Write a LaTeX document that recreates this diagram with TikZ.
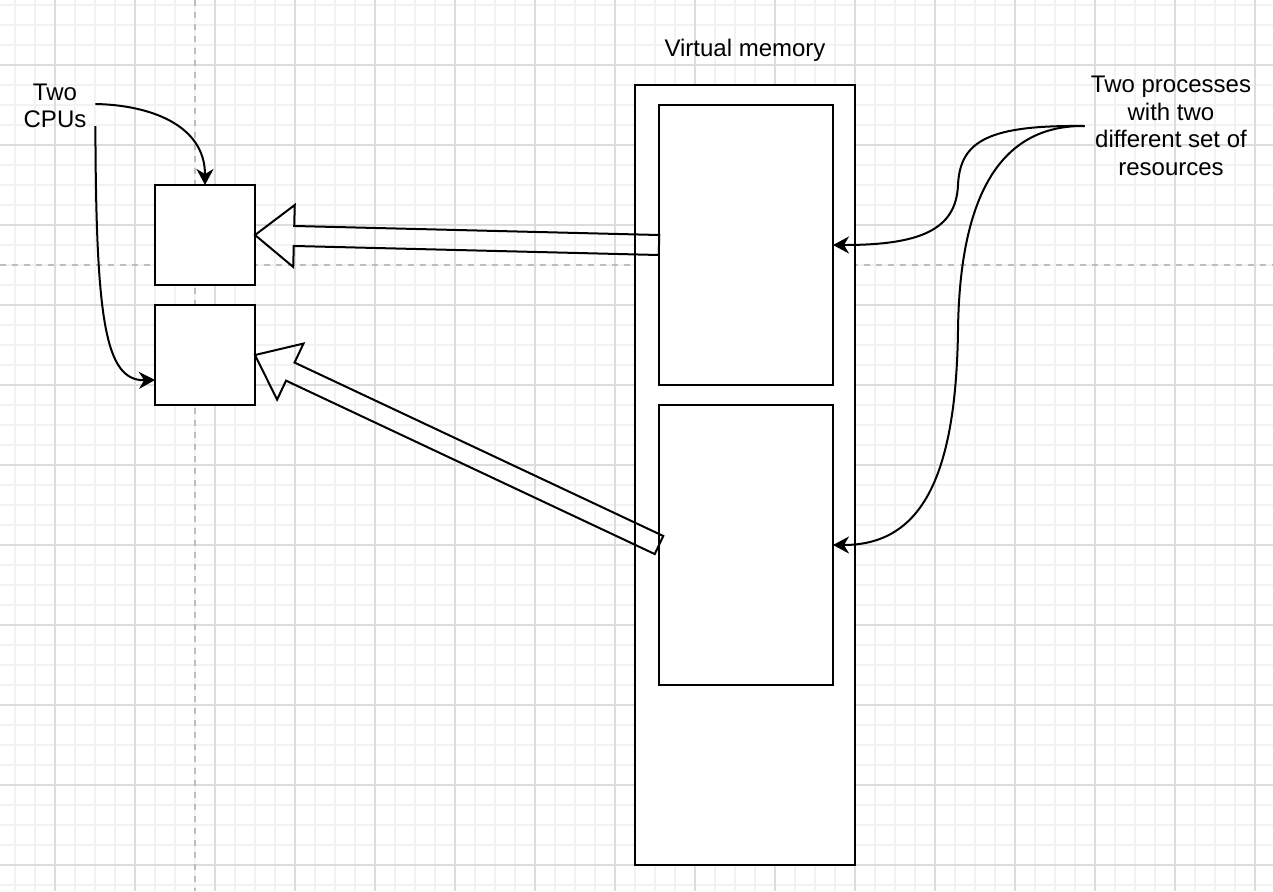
\documentclass[tikz,border=0pt]{standalone}
\usepackage{fontspec}
\setmainfont{Liberation Sans}
\usepackage{tikz}
\usetikzlibrary{positioning,calc,arrows.meta}
\definecolor{gridminor}{HTML}{F2F2F2}
\definecolor{gridmajor}{HTML}{DCDCDC}
\definecolor{pageline}{HTML}{BDBDBD}
\newcommand{\blockarrow}[2]{%
  \path ($(#2)!19.5pt!(#1)$) coordinate (ah);
  \draw[hollow] (#2) -- ($(ah)!15.5pt!90:(#1)$) -- ($(ah)!5pt!90:(#1)$)
    -- ($(#1)!5pt!-90:(ah)$) -- ($(#1)!5pt!90:(ah)$)
    -- ($(ah)!5pt!-90:(#1)$) -- ($(ah)!15.5pt!-90:(#1)$) -- cycle;}

\begin{document}
\begin{tikzpicture}[x=0.5pt, y=-0.5pt,
      box/.style={rectangle, draw, fill=white, line width=1.2pt, inner sep=0pt, outer sep=0pt},
      lbl/.style={font=\fontsize{12}{13.8}\selectfont, align=center, inner sep=0pt},
      link/.style={-{Stealth[length=8pt, width=8.5pt, inset=2.5pt]}, line width=1pt},
      hollow/.style={draw, line width=1pt, line join=miter}]
    \useasboundingbox (0,0) rectangle (1273,891);
    \fill[white] (0,0) rectangle (1273,891);
    \foreach \x in {15,35,...,1273} \draw[gridminor, line width=0.8pt] (\x,0) -- (\x,891);
    \foreach \y in {5,25,...,891} \draw[gridminor, line width=0.8pt] (0,\y) -- (1273,\y);
    \foreach \x in {55,135,...,1273} \draw[gridmajor, line width=0.6pt] (\x,0) -- (\x,891);
    \foreach \y in {65,145,...,891} \draw[gridmajor, line width=0.6pt] (0,\y) -- (1273,\y);
    \draw[pageline, line width=1pt, dash pattern=on 3pt off 3pt] (195,0) -- (195,891);
    \draw[pageline, line width=1pt, dash pattern=on 3pt off 3pt] (0,265) -- (1273,265);

    \node[box, minimum width=50pt, minimum height=50pt] (cpu1) at (205,235) {};
    \node[box, minimum width=50pt, minimum height=50pt, below=10pt of cpu1] (cpu2) {};
    \node[box, minimum width=110pt, minimum height=390pt] (vm) at (745,475) {};
    \node[box, minimum width=87pt, minimum height=140pt] (p1) at (746,245) {};
    \node[box, minimum width=87pt, minimum height=140pt, below=10pt of p1] (p2) {};
    \node[lbl, above=11.5pt of vm] (vmlbl) {Virtual memory};
    \node[lbl, minimum width=40pt] (cpus) at (55,106) {Two\\CPUs};
    \node[lbl, minimum width=86pt] (procs) at (1171,126)
      {Two processes\\with two\\different set of\\resources};

    \blockarrow{p1.west}{cpu1.east}
    \blockarrow{p2.west}{cpu2.east}

    \draw[link] ([yshift=1pt]cpus.east) .. controls (150,105) and (205,125) .. (cpu1.north);
    \draw[link] ([yshift=-10pt]cpus.east) .. controls (96,320) and (105,381) .. ([yshift=-12.5pt]cpu2.west);
    \draw[link] (procs.west) .. controls (990,125) and (960,140) .. (958,185)
      .. controls (956,230) and (920,245) .. (p1.east);
    \draw[link] (procs.west) .. controls (1010,125) and (960,180) .. (958,330)
      .. controls (956,480) and (920,545) .. (p2.east);
  \end{tikzpicture}
\end{document}
